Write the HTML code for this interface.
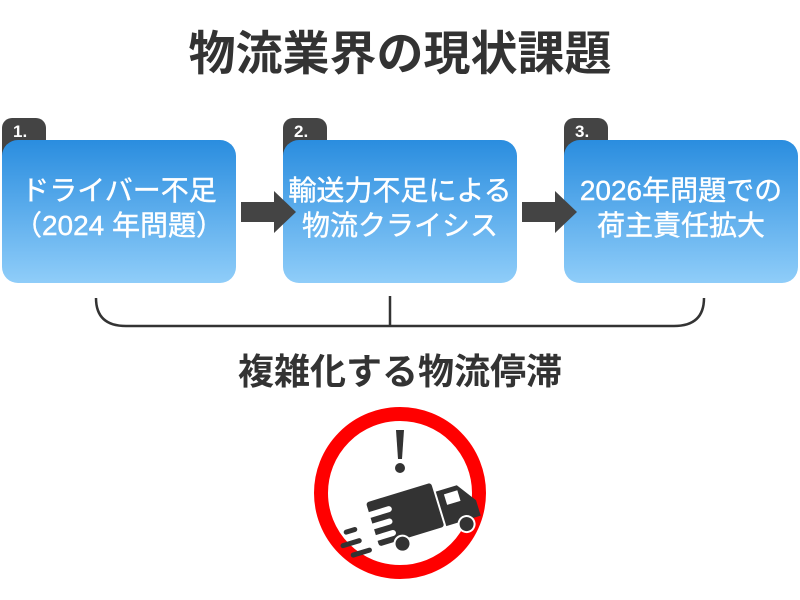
<!DOCTYPE html>
<html><head><meta charset="utf-8"><style>
body{margin:0;width:800px;height:600px;background:#fff;position:relative;overflow:hidden;font-family:"Liberation Sans","Noto Sans CJK JP",sans-serif}
.t{position:absolute;left:0;width:800px;text-align:center;font-weight:bold;color:#333}
.box{position:absolute;top:140px;width:234px;height:143px;border-radius:16px;background:linear-gradient(#2a8ddf,#8fcdf9);color:#fff;font-size:28px;line-height:35px;text-align:center;display:flex;align-items:center;justify-content:center;padding-bottom:8px;box-sizing:border-box;-webkit-text-stroke:0.4px #fff}
.tab{position:absolute;top:118px;width:44px;height:56px;background:#444;border-radius:10px 10px 0 0;clip-path:polygon(0 0,100% 0,100% 39%,0 100%)}
.tab span{position:absolute;left:11px;top:4px;color:#fff;font-size:17px;font-weight:bold}
</style></head><body>
<div class="t" style="top:26px;font-size:47px;line-height:56px">物流業界の現状課題</div>
<div class="tab" style="left:2px"><span>1.</span></div>
<div class="tab" style="left:283px"><span>2.</span></div>
<div class="tab" style="left:564px"><span>3.</span></div>
<div class="box" style="left:2px">ドライバー不足<br>（2024 年問題）</div>
<div class="box" style="left:283px">輸送力不足による<br>物流クライシス</div>
<div class="box" style="left:564px">2026年問題での<br>荷主責任拡大</div>
<svg width="800" height="600" style="position:absolute;left:0;top:0">
<polygon points="241,202 274,202 274,191 296,212 274,233 274,222 241,222" fill="#444"/>
<polygon points="522,202 555,202 555,191 577,212 555,233 555,222 522,222" fill="#444"/>
<path d="M96,298 Q96,326 126,326 L674,326 Q704,326 704,298 M390,296 L390,326" fill="none" stroke="#333" stroke-width="2.5"/>
<circle cx="400" cy="493" r="79" fill="none" stroke="#f00" stroke-width="14"/>
<path d="M396,430 L404,430 L402,459 L398,459 Z" fill="#333"/>
<circle cx="400" cy="468" r="5" fill="#333"/>
<g transform="rotate(-17 410 510)" fill="#333">
<rect x="370" y="490" width="68" height="46" rx="3"/>
<path d="M440,500 L462,500 L476,520 L476,536 L440,536 Z"/>
<rect x="447" y="505" width="14" height="11" fill="#fff"/>
<circle cx="393" cy="540" r="8" stroke="#fff" stroke-width="2"/>
<circle cx="460" cy="540" r="8" stroke="#fff" stroke-width="2"/>
<rect x="355" y="500" width="38" height="6" rx="3" fill="#fff"/>
<rect x="360" y="512" width="30" height="6" rx="3" fill="#fff"/>
<rect x="352" y="524" width="38" height="6" rx="3" fill="#fff"/>
<rect x="340" y="510" width="14" height="5" rx="2.5"/>
<rect x="333" y="522" width="22" height="5" rx="2.5"/>
<rect x="340" y="534" width="22" height="5" rx="2.5"/>
</g>
</svg>
<div class="t" style="top:350px;font-size:36px;line-height:44px">複雑化する物流停滞</div>
</body></html>
